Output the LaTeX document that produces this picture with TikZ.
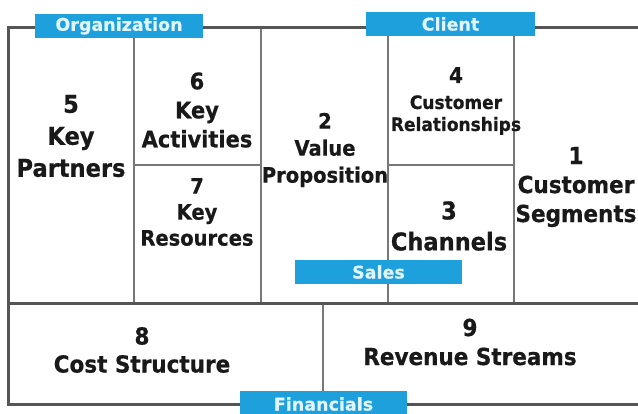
\documentclass[tikz,border=0pt]{standalone}
\usepackage{fontspec}
\setmainfont{DejaVu Sans}
\newfontfamily\cellfont{DejaVu Sans Bold}[FakeBold=0.6, FakeStretch=0.92]
\newfontfamily\tagfont{DejaVu Sans Bold}[FakeBold=0.4]
\definecolor{tagblue}{RGB}{30,160,220}
\definecolor{frame}{RGB}{85,85,85}
\definecolor{inner}{RGB}{120,120,120}
\definecolor{ink}{RGB}{25,25,25}
\definecolor{tagtext}{RGB}{225,245,255}
\tikzset{
  cell/.style={align=center, text=ink, inner sep=0pt},
  tag/.style={fill=tagblue, draw=none, text=tagtext, inner sep=0pt, font=\tagfont\fontsize{17.5}{17.5}\selectfont},
  outer/.style={draw=frame, line width=3pt},
  grid/.style={draw=inner, line width=1.8pt}
}
\begin{document}
\begin{tikzpicture}[x=1pt,y=-1pt]
\useasboundingbox (0,0) rectangle (638,414);
\fill[white] (0,0) rectangle (638,414);
% grid lines
\draw[grid] (134,28) -- (134,304);
\draw[grid] (261,28) -- (261,304);
\draw[grid] (388,28) -- (388,304);
\draw[grid] (514,28) -- (514,304);
\draw[grid] (134,165) -- (261,165);
\draw[grid] (388,165) -- (514,165);
\draw[grid] (323,304) -- (323,405);
\draw[outer] (8,304) -- (645,304);
\draw[outer] (645,28) -- (8,28) -- (8,405) -- (645,405);
% texts
\node[cell, font=\cellfont\fontsize{24.5}{32}\selectfont] (kp) at (71,136) {5\\Key\\Partners};
\node[cell, font=\cellfont\fontsize{22.8}{29}\selectfont] (ka) at (197,110) {6\\Key\\Activities};
\node[cell, font=\cellfont\fontsize{21.2}{26}\selectfont] (kr) at (197,212) {7\\Key\\Resources};
\node[cell, font=\cellfont\fontsize{21.2}{27}\selectfont] (vp) at (325,150) {2\\Value\\Proposition};
\node[cell, font=\cellfont\fontsize{18.5}{22}\selectfont] (cr) at (456,101) {{\fontsize{21.7}{22}\selectfont 4}\\[4pt]Customer\\Relationships};
\node[cell, font=\cellfont\fontsize{24.5}{31}\selectfont] (ch) at (449,226) {3\\Channels};
\node[cell, font=\cellfont\fontsize{23.4}{29}\selectfont] (cs) at (576,187) {1\\Customer\\Segments};
\node[cell, font=\cellfont\fontsize{23.4}{28}\selectfont] (co) at (142,350) {8\\Cost Structure};
\node[cell, font=\cellfont\fontsize{23.4}{29}\selectfont] (rs) at (470,342) {9\\Revenue Streams};
% tags
\node[tag, minimum width=168pt, minimum height=24pt] (org) at (119,26) {Organization};
\node[tag, minimum width=169pt, minimum height=24pt] (cli) at (450.5,24) {Client};
\node[tag, minimum width=167pt, minimum height=24pt] (sal) at (378.5,272) {Sales};
\node[tag, minimum width=167pt, minimum height=26pt] (fin) at (323.5,404) {Financials};
\end{tikzpicture}
\end{document}
